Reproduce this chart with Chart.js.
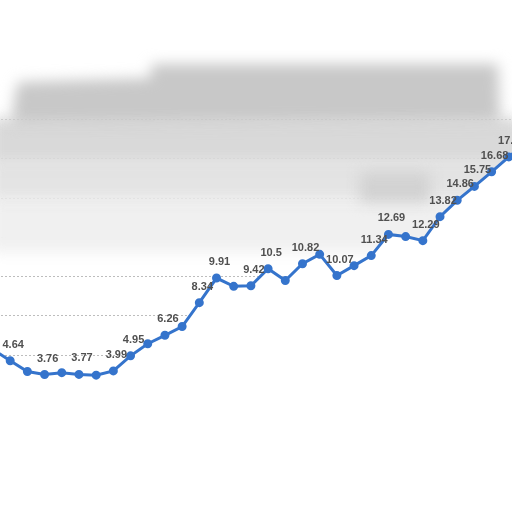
<!DOCTYPE html>
<html>
<head>
<meta charset="utf-8">
<script src="https://cdn.jsdelivr.net/npm/chart.js@4"></script>
<style>
  html, body { margin:0; padding:0; background:#fff; overflow:hidden; width:512px; height:512px; }
  #wrap { position:absolute; left:-7px; top:2px; width:533px; height:510px; }
</style>
</head>
<body>
<div id="wrap"><canvas id="c" width="533" height="510"></canvas></div>
<script>
// Data (one point is off the left edge, one off the right)
const categories = ["0","1","2","3","4","5","6","7","8","9","10","11","12","13","14","15",
                    "16","17","18","19","20","21","22","23","24","25","26","27","28","29","30","31"];
const seriesValues = [5.35, 4.64, 3.95, 3.76, 3.88, 3.77, 3.72, 3.99, 4.95, 5.72, 6.26, 6.82,
                      8.34, 9.91, 9.38, 9.42, 10.5, 9.75, 10.82, 11.42, 10.07, 10.7, 11.34,
                      12.69, 12.55, 12.29, 13.82, 14.86, 15.75, 16.68, 17.63, 18.53];
const labelShown = [false, true, false, true, false, true, false, true, true, false, true, false,
                    true, true, false, true, true, false, true, false, true, false, true,
                    true, false, true, true, true, true, true, true, true];
const yTickMin = -5, yTickMax = 27.5, yTickStep = 2.5;
const gridFrom = 5, gridTo = 20;

const backdrop = {
  id: 'backdrop',
  beforeDatasetsDraw(chart) {
    const ctx = chart.ctx;
    ctx.save();
    ctx.translate(7, -2);
    ctx.filter = 'blur(7px)';
    ctx.fillStyle = '#f0f0f0';
    ctx.fillRect(-10, 196, 532, 56);
    ctx.fillStyle = '#e4e4e4';
    ctx.fillRect(-10, 160, 532, 40);
    ctx.fillStyle = '#d9d9d9';
    ctx.fillRect(-10, 118, 532, 46);
    ctx.fillStyle = '#d2d2d2';
    ctx.fillRect(360, 172, 70, 30);
    ctx.fillStyle = '#c8c8c8';
    ctx.beginPath();
    ctx.moveTo(18, 82); ctx.lineTo(150, 78); ctx.lineTo(152, 64); ctx.lineTo(498, 64);
    ctx.lineTo(500, 122); ctx.lineTo(12, 124); ctx.lineTo(14, 100);
    ctx.closePath(); ctx.fill();
    ctx.restore();
  }
};

const valueLabels = {
  id: 'valueLabels',
  afterDatasetsDraw(chart) {
    const ctx = chart.ctx;
    const meta = chart.getDatasetMeta(0);
    ctx.save();
    ctx.font = 'bold 11px "Liberation Sans", Arial, sans-serif';
    ctx.fillStyle = '#505050';
    ctx.textAlign = 'center';
    ctx.textBaseline = 'middle';
    meta.data.forEach((pt, i) => {
      if (!labelShown[i]) return;
      ctx.fillText(String(seriesValues[i]), pt.x + 3, pt.y - 16);
    });
    ctx.restore();
  }
};

new Chart(document.getElementById('c'), {
  type: 'line',
  data: {
    labels: categories,
    datasets: [{
      data: seriesValues,
      borderColor: '#3574cc',
      backgroundColor: '#ffffff',
      pointBackgroundColor: '#3574cc',
      pointBorderColor: '#3574cc',
      pointRadius: 3,
      borderWidth: 3,
      tension: 0,
      fill: 'start'
    }]
  },
  options: {
    responsive: false,
    animation: false,
    devicePixelRatio: 1,
    layout: { padding: 0, autoPadding: false },
    plugins: { legend: { display: false }, tooltip: { enabled: false } },
    scales: {
      x: { display: false, offset: false },
      y: {
        min: yTickMin, max: yTickMax,
        ticks: { display: false, stepSize: yTickStep },
        border: { display: false, dash: [2, 2] },
        grid: {
          drawTicks: false,
          lineWidth: 1,
          color: (c) => (c.tick && c.tick.value >= gridFrom && c.tick.value <= gridTo) ? '#bdbdbd' : 'rgba(0,0,0,0)'
        }
      }
    }
  },
  plugins: [backdrop, valueLabels]
});
</script>
</body>
</html>
